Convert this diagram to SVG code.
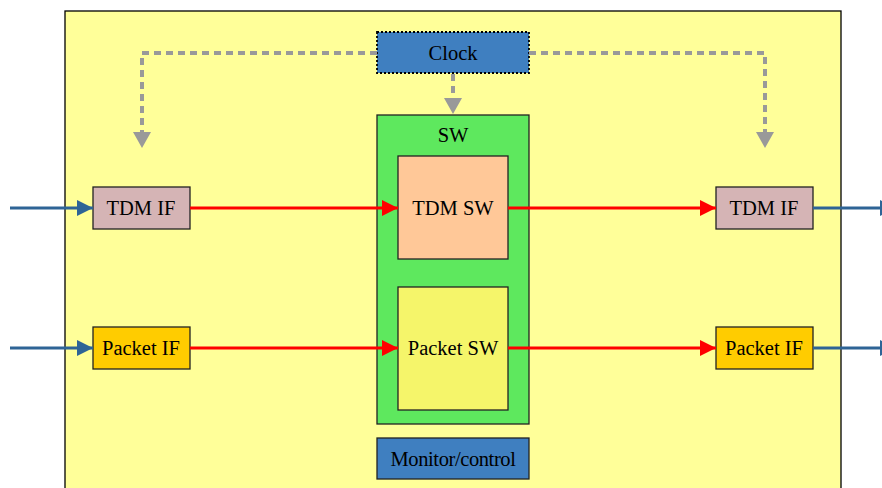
<svg xmlns="http://www.w3.org/2000/svg" width="882" height="488" viewBox="0 0 882 488">
<style>
.box{stroke:#222;stroke-width:1.3}
.red{stroke:#FF0000;stroke-width:3;fill:none}
.blue{stroke:#2E6496;stroke-width:3;fill:none}
.gry{stroke:#999;stroke-width:4;stroke-dasharray:7,5;fill:none}
</style>
<defs>
<marker id="ar" viewBox="0 0 10 10" refX="10" refY="5" markerWidth="16" markerHeight="16" orient="auto" markerUnits="userSpaceOnUse"><path d="M0,0L10,5L0,10z" fill="#FF0000"/></marker>
<marker id="ab" viewBox="0 0 10 10" refX="10" refY="5" markerWidth="16" markerHeight="16" orient="auto" markerUnits="userSpaceOnUse"><path d="M0,0L10,5L0,10z" fill="#2E6496"/></marker>
</defs>
<rect x="65" y="11" width="776" height="490" fill="#FFFF99" stroke="#000" stroke-width="1.3"/>
<g font-family="'Liberation Serif', 'Times New Roman', serif" font-size="20.5" text-anchor="middle" fill="#000">
<g id="clock"><rect x="377" y="32" width="152" height="41" fill="#3F7FC0" stroke="#000" stroke-width="1.8" stroke-dasharray="2,2"/><text x="453" y="60">Clock</text></g>
<g id="sw"><rect class="box" x="377" y="115" width="152" height="309" fill="#5EE85E"/><text x="453" y="142">SW</text></g>
<g id="tdm-sw"><rect class="box" x="398" y="156" width="110" height="103" fill="#FFC898"/><text x="453" y="215">TDM SW</text></g>
<g id="packet-sw"><rect class="box" x="398" y="287" width="110" height="123" fill="#F5F56A"/><text x="453" y="355">Packet SW</text></g>
<g id="monitor"><rect class="box" x="377" y="438" width="152" height="41" fill="#3F7FC0"/><text x="453" y="466" letter-spacing="-0.4">Monitor/control</text></g>
<g id="tdm-if-left"><rect class="box" x="93" y="187" width="97" height="42" fill="#D5B4B5"/><text x="141" y="215">TDM IF</text></g>
<g id="packet-if-left"><rect class="box" x="93" y="327" width="97" height="42" fill="#FFCC00"/><text x="141" y="355">Packet IF</text></g>
<g id="tdm-if-right"><rect class="box" x="716" y="187" width="97" height="42" fill="#D5B4B5"/><text x="764" y="215">TDM IF</text></g>
<g id="packet-if-right"><rect class="box" x="716" y="327" width="97" height="42" fill="#FFCC00"/><text x="764" y="355">Packet IF</text></g>
</g>
<g id="connectors">
<path d="M377,53H142V136" class="gry"/>
<path d="M133,132L142,148L151,132z" fill="#999"/>
<path d="M529,53H765V136" class="gry"/>
<path d="M756,132L765,148L774,132z" fill="#999"/>
<path d="M453,74V100" class="gry"/>
<path d="M444,98L453,114L462,98z" fill="#999"/>
<line x1="10" y1="208" x2="93" y2="208" class="blue" marker-end="url(#ab)"/>
<line x1="10" y1="348" x2="93" y2="348" class="blue" marker-end="url(#ab)"/>
<line x1="190" y1="208" x2="398" y2="208" class="red" marker-end="url(#ar)"/>
<line x1="190" y1="348" x2="398" y2="348" class="red" marker-end="url(#ar)"/>
<line x1="508" y1="208" x2="716" y2="208" class="red" marker-end="url(#ar)"/>
<line x1="508" y1="348" x2="716" y2="348" class="red" marker-end="url(#ar)"/>
<line x1="813" y1="208" x2="896" y2="208" class="blue" marker-end="url(#ab)"/>
<line x1="813" y1="348" x2="896" y2="348" class="blue" marker-end="url(#ab)"/>
</g>
</svg>
